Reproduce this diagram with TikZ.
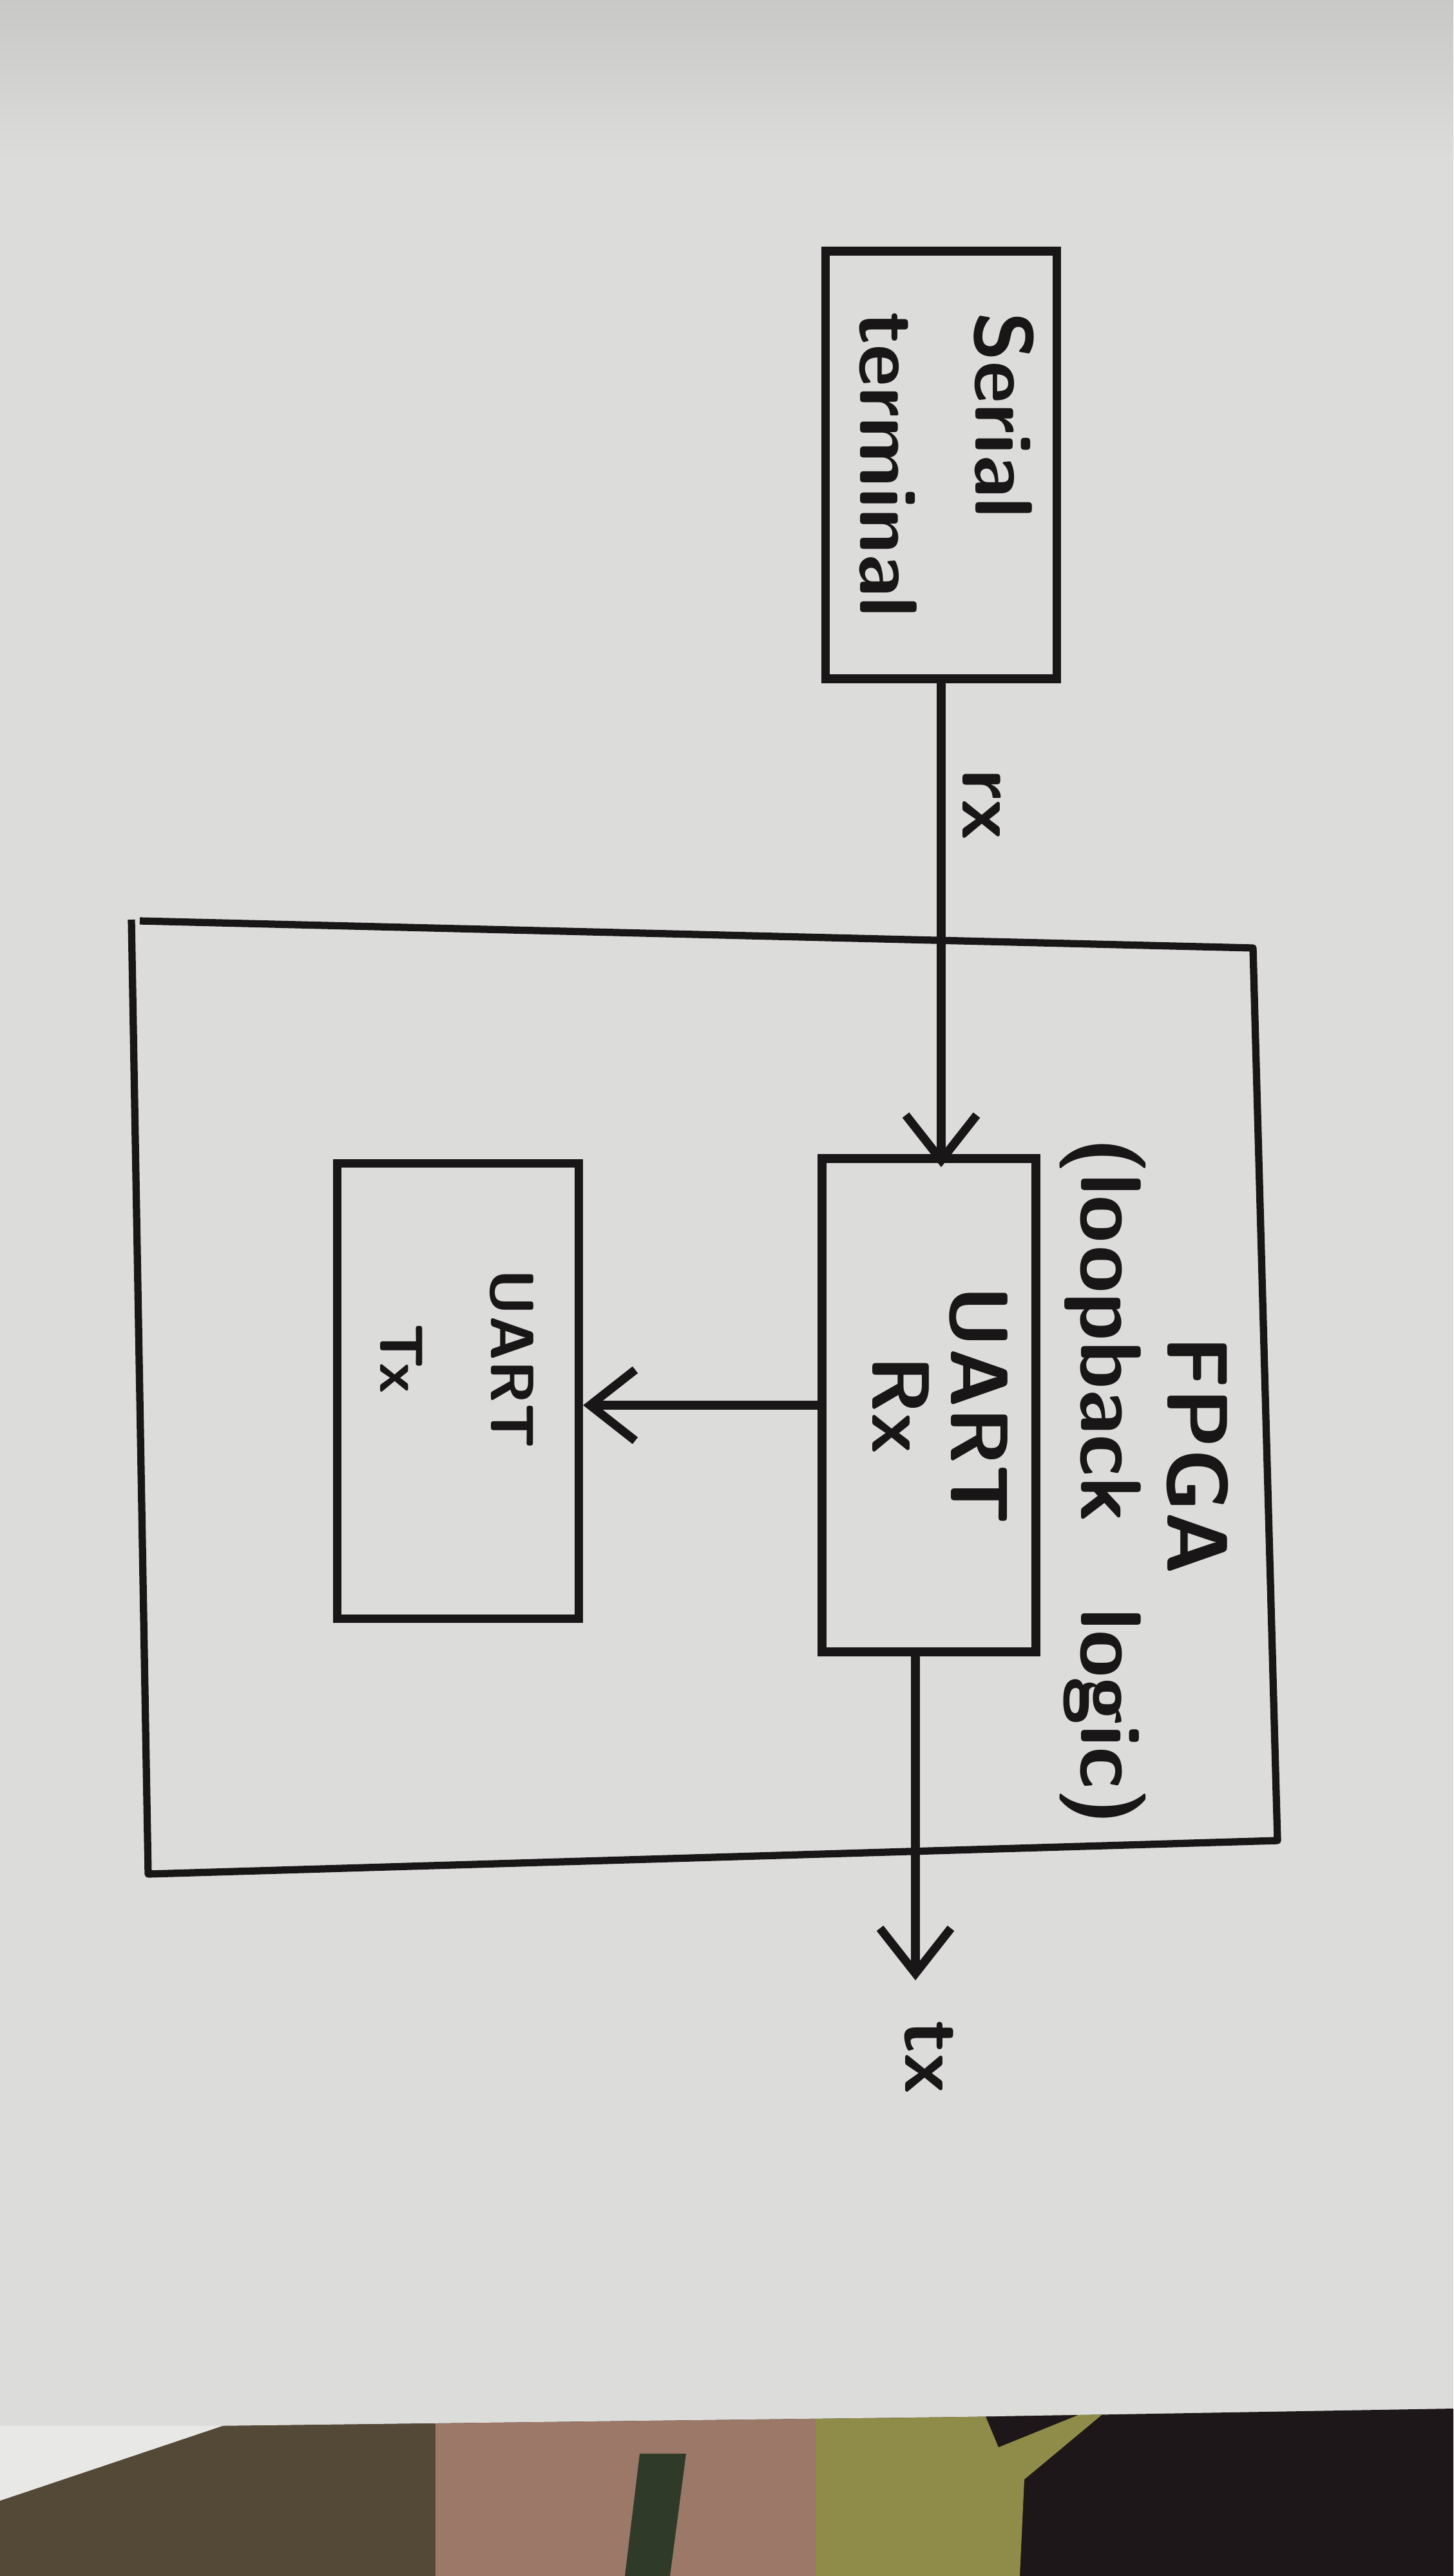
\documentclass[tikz,border=0pt]{standalone}
\usepackage{graphicx}
\usepackage{tikz}
\usetikzlibrary{arrows.meta}
\definecolor{paper}{RGB}{220,220,218}
\definecolor{paperdim}{RGB}{200,200,198}
\definecolor{ink}{RGB}{24,22,22}
\definecolor{sheet}{RGB}{232,232,230}
\definecolor{tabdark}{RGB}{30,23,25}
\definecolor{tabbrown}{RGB}{84,72,54}
\definecolor{tabpink}{RGB}{155,120,104}
\definecolor{tabolive}{RGB}{142,140,72}
\definecolor{tabgreen}{RGB}{47,59,40}

\begin{document}
\begin{tikzpicture}[x=1cm,y=-1cm,>={Straight Barb[length=7mm,width=11mm]},
		blk/.style={draw=ink,line width=3.8pt,inner sep=0pt},
		wire/.style={draw=ink,line width=3.8pt},
		lbl/.style={text=ink,font=\sffamily\bfseries\fontsize{36}{40}\selectfont,align=center}]
		\useasboundingbox (0,0) rectangle (22.56,40);
		\fill[paper] (0,0) rectangle (22.56,40);
		\shade[top color=paperdim,bottom color=paper] (0,0) rectangle (22.56,2.5);
		\begin{scope}
			\clip (3.45,37.67) -- (15,37.53) -- (22.56,37.40) -- (22.56,40) -- (0,40) -- (0,38.83) -- cycle;
			\fill[tabdark] (0,37) rectangle (22.56,40);
			\fill[tabbrown] (0,37) rectangle (6.76,40);
			\fill[tabpink] (6.76,37) rectangle (12.66,40);
			\fill[tabgreen] (9.93,38.1) -- (10.65,38.1) -- (10.4,40) -- (9.7,40) -- cycle;
			\fill[tabolive] (12.66,37) -- (17.7,37) -- (15.9,38.5) -- (15.83,40) -- (12.66,40) -- cycle;
			\fill[tabdark] (15.25,37.4) -- (16.98,37.4) -- (15.5,38.0) -- cycle;
		\end{scope}
		\fill[sheet] (0,37.67) -- (3.45,37.67) -- (0,38.83) -- cycle;

		\node[blk,minimum width=3.54cm,minimum height=6.64cm] (term) at (14.61,7.22)
			{\rotatebox{-90}{\fontsize{36}{51}\selectfont\sffamily\bfseries\color{ink}\begin{tabular}{@{}l@{}}Serial\\terminal\end{tabular}}};
		\node[blk,minimum width=3.32cm,minimum height=7.66cm] (rxu) at (14.42,21.82)
			{\rotatebox{-90}{\fontsize{36}{33}\selectfont\sffamily\bfseries\color{ink}\begin{tabular}{@{}c@{}}UART\\Rx\end{tabular}}};
		\node[blk,minimum width=3.75cm,minimum height=7.07cm] (txu) at (7.11,21.60)
			{\rotatebox{-90}{\fontsize{27}{49}\selectfont\sffamily\bfseries\color{ink}\begin{tabular}{@{}c@{\hspace{1cm}}}UART\\Tx\end{tabular}}};

		\coordinate (fpganw) at (2.17,14.30);
		\coordinate (fpgane) at (19.45,14.72);
		\coordinate (fpgase) at (19.83,28.58);
		\coordinate (fpgasw) at (2.30,29.10);
		\draw[ink,line width=3.2pt,line join=round] (2.04,14.28) -- (fpgasw) -- (fpgase) -- (fpgane) -- (fpganw);
		\node[lbl,rotate=-90,font=\sffamily\bfseries\fontsize{38}{38}\selectfont] (fpgalbl) at (17.76,23.00) {FPGA\hspace{0.8cm}\mbox{}\\(loopback\quad logic)};

		\coordinate (txout) at (14.21,30.75);
		\draw[wire,->,shorten >=-2mm] (term.south) -- (term.south |- rxu.north);
		\draw[wire,->] (rxu.west) -- (rxu.west -| txu.east);
		\draw[wire,->] (txout |- rxu.south) -- (txout);

		\node[lbl,rotate=-90] (rxlbl) at (15.24,12.50) {rx};
		\node[lbl,rotate=-90] (txlbl) at (14.42,31.95) {tx};
\end{tikzpicture}
\end{document}
